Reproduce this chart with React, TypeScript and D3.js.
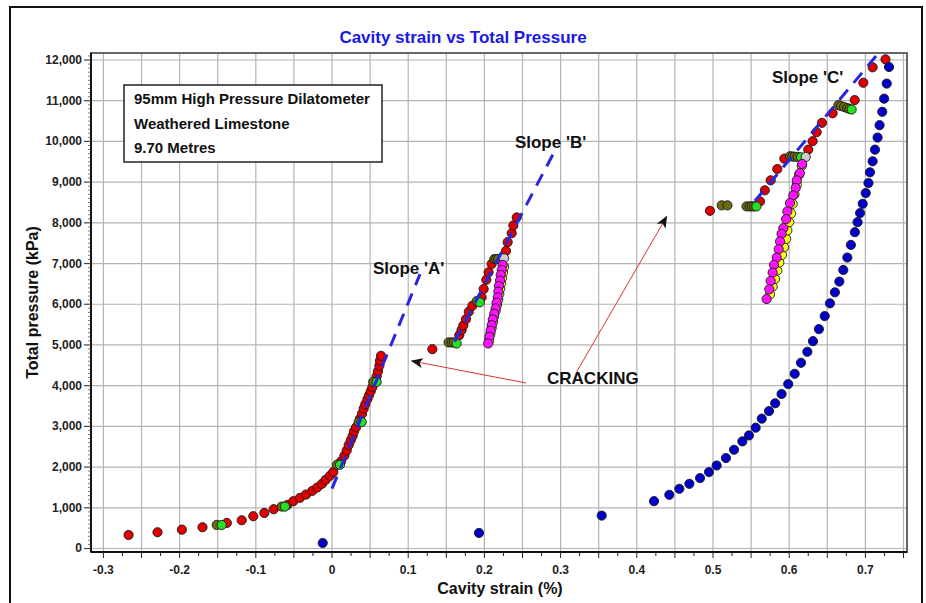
import * as d3 from 'd3';

type Pt = [number, number];

// cavity strain (%), total pressure (kPa)
const loadA: Pt[] = [
  [-0.267, 332], [-0.229, 399], [-0.197, 463], [-0.17, 522], [-0.138, 628], [-0.1185, 694],
  [-0.1033, 793], [-0.0888, 874], [-0.0765, 965], [-0.0586, 1071], [-0.0508, 1162], [-0.042, 1244],
  [-0.0341, 1325], [-0.0258, 1416], [-0.0193, 1498], [-0.0131, 1589], [-0.0083, 1687], [-0.0026, 1786],
  [0.0017, 1877], [0.0118, 2138], [0.0162, 2278], [0.0193, 2409], [0.0219, 2542], [0.0245, 2655],
  [0.0271, 2764], [0.0289, 2877], [0.0315, 2975], [0.0367, 3190], [0.0394, 3313], [0.0416, 3436],
  [0.0437, 3542], [0.0464, 3665], [0.0486, 3764], [0.0508, 3862], [0.0529, 3961], [0.0586, 4232],
  [0.0604, 4355], [0.0621, 4488], [0.063, 4611], [0.0643, 4734],
];
const loadB: Pt[] = [
  [0.1317, 4897], [0.167, 5241], [0.17, 5365], [0.1724, 5480], [0.1759, 5636], [0.1795, 5817],
  [0.1842, 5965], [0.1964, 6170], [0.199, 6374], [0.2025, 6600], [0.2055, 6786], [0.2095, 6990],
  [0.2283, 7310], [0.2305, 7525], [0.2358, 7746], [0.238, 7936], [0.2424, 8133],
];
const loadC: Pt[] = [
  [0.496, 8296], [0.5617, 8527], [0.568, 8798], [0.5757, 9044], [0.5844, 9323], [0.5936, 9577],
  [0.625, 9798], [0.6308, 10005], [0.636, 10227], [0.643, 10456], [0.657, 10690], [0.686, 11015],
  [0.6973, 11441], [0.7095, 11820], [0.7264, 12015],
];
const holdPts: Pt[] = [
  [-0.1513, 578], [-0.066, 1030], [0.0065, 2057], [0.035, 3108], [0.054, 4093],
  [0.153, 5062], [0.157, 5062], [0.16, 5062], [0.19, 6079], [0.213, 7110], [0.2155, 7110], [0.218, 7110],
  [0.5114, 8429], [0.519, 8429], [0.544, 8404], [0.548, 8404], [0.551, 8404], [0.554, 8404],
  [0.601, 9635], [0.604, 9630], [0.607, 9625], [0.611, 9620],
  [0.6645, 10890], [0.668, 10870], [0.672, 10845], [0.676, 10820], [0.679, 10800],
];
const holdEnd: Pt[] = [
  [-0.1447, 578], [-0.0617, 1030], [0.0105, 2057], [0.039, 3108], [0.0586, 4093],
  [0.1636, 5035], [0.194, 6047], [0.557, 8404], [0.6155, 9611], [0.682, 10783],
];
const turnPts: Pt[] = [[0.2257, 7130], [0.6217, 9618]];
const unload1: Pt[] = [
  [0.224, 6966], [0.2227, 6842], [0.2214, 6719], [0.2205, 6581], [0.219, 6448], [0.2183, 6310],
  [0.2175, 6170], [0.216, 6039], [0.2148, 5899], [0.213, 5768], [0.211, 5628], [0.2096, 5488],
  [0.2083, 5350], [0.2065, 5202], [0.205, 5037],
];
const reload1: Pt[] = [
  [0.2062, 5110], [0.2078, 5270], [0.2095, 5420], [0.2112, 5560], [0.2128, 5700], [0.2148, 5840],
  [0.2165, 5980], [0.2182, 6110], [0.2195, 6250], [0.2207, 6380], [0.222, 6520], [0.2232, 6650],
  [0.2245, 6790], [0.2258, 6920],
];
const unload2: Pt[] = [
  [0.617, 9446], [0.614, 9224], [0.61, 9044], [0.6085, 8855], [0.6054, 8675], [0.601, 8485],
  [0.5976, 8281], [0.596, 8091], [0.5923, 7869], [0.59, 7729], [0.588, 7542], [0.5862, 7352],
  [0.5836, 7148], [0.58, 6966], [0.5783, 6778], [0.5757, 6571], [0.5739, 6367], [0.5704, 6128],
];
const reload2: Pt[] = [
  [0.5748, 6244], [0.5783, 6433], [0.5814, 6621], [0.5844, 6828], [0.587, 7025], [0.5906, 7212],
  [0.5932, 7401], [0.596, 7606], [0.5976, 7813], [0.6, 8017], [0.6025, 8230], [0.6045, 8468],
  [0.607, 8700], [0.61, 8936], [0.6129, 9182], [0.6165, 9400],
];
const finalUnload: Pt[] = [
  [0.731, 11828], [0.728, 11420], [0.7246, 11050], [0.7221, 10727], [0.7186, 10399], [0.716, 10095],
  [0.7126, 9798], [0.7095, 9512], [0.706, 9241], [0.704, 8978], [0.7004, 8731], [0.6965, 8468],
  [0.693, 8239], [0.6897, 8017], [0.6862, 7771], [0.681, 7458], [0.6763, 7148], [0.671, 6842],
  [0.6658, 6557], [0.66, 6293], [0.6535, 6022], [0.6466, 5709], [0.639, 5389], [0.6312, 5094],
  [0.6238, 4833], [0.6155, 4562], [0.6072, 4291], [0.5987, 4040], [0.59, 3795], [0.5816, 3567],
  [0.5735, 3375], [0.564, 3190], [0.556, 2968], [0.5472, 2778], [0.5385, 2631], [0.5276, 2426],
  [0.517, 2222], [0.5048, 2039], [0.4948, 1877], [0.483, 1729], [0.469, 1589], [0.4558, 1466],
  [0.4427, 1318], [0.4226, 1163], [0.3539, 808], [0.1929, 382], [-0.0122, 135],
];

const slopeA: Pt[] = [[0, 1470], [0.1155, 6740]];
const slopeB: Pt[] = [[0.161, 5085], [0.291, 9720]];
const slopeC: Pt[] = [[0.555, 8535], [0.7165, 12155]];

const xTickLabels = ['-0.3', '-0.2', '-0.1', '0', '0.1', '0.2', '0.3', '0.4', '0.5', '0.6', '0.7'];
const yTicks = [0, 1000, 2000, 3000, 4000, 5000, 6000, 7000, 8000, 9000, 10000, 11000, 12000];
const infoLines = ['95mm High Pressure Dilatometer', 'Weathered Limestone', '9.70 Metres'];

const W = 926;
const H = 603;
const FONT = "'Liberation Sans', Arial, sans-serif";

export default function App() {
  const x = d3.scaleLinear().domain([-0.3163, 0.7546]).range([91, 907]);
  const y = d3.scaleLinear().domain([-86, 12172]).range([552, 53]);
  const line = d3.line<Pt>().x(d => x(d[0])).y(d => y(d[1]));
  const fmt = d3.format(',');

  const vGrid = d3.range(-6, 16).map(i => i * 0.05);
  const xMinor = d3.range(-12, 31).map(i => i * 0.025);
  const yMinor = d3.range(0, 122).map(i => i * 100);

  const dots = (data: Pt[], fill: string, key: string) =>
    data.map((d, i) => (
      <circle key={key + i} cx={x(d[0])} cy={y(d[1])} r={4.6} fill={fill} stroke="#1a1a1a" strokeWidth={0.9} />
    ));

  const [x0, x1] = x.range();
  const [yb, yt] = y.range();

  return (
    <svg width={W} height={H} style={{ position: 'absolute', left: 0, top: 0, background: '#fff' }} fontFamily={FONT}>
      <rect x={10} y={7} width={912} height={620} fill="#fff" stroke="#111" strokeWidth={2} />
      <text x={463} y={43} textAnchor="middle" fontSize={17} fontWeight="bold" fill="#1818e8">
        Cavity strain vs Total Pressure
      </text>

      {/* grid */}
      {vGrid.map((v, i) => (
        <line key={'vg' + i} x1={x(v)} x2={x(v)} y1={yt} y2={yb} stroke="#b4b4b4" strokeWidth={1.2} />
      ))}
      {yTicks.map(v => (
        <line key={'hg' + v} x1={x0} x2={x1} y1={y(v)} y2={y(v)} stroke="#b4b4b4" strokeWidth={1.2} />
      ))}
      <rect x={x0} y={yt} width={x1 - x0} height={yb - yt} fill="none" stroke="#666" strokeWidth={2} />
      <line x1={x0} x2={x0} y1={yt} y2={yb} stroke="#111" strokeWidth={2} />
      <line x1={x0} x2={x1} y1={yb} y2={yb} stroke="#111" strokeWidth={2} />

      {/* ticks */}
      {xMinor.map((v, i) => (
        <line key={'xm' + i} x1={x(v)} x2={x(v)} y1={yb} y2={yb + (i % 2 === 0 ? 6 : 4)} stroke="#222" strokeWidth={1} />
      ))}
      {yMinor.map(v => (
        <line key={'ym' + v} x1={x0} x2={x0 - (v % 1000 === 0 ? 7 : 3)} y1={y(v)} y2={y(v)} stroke="#444" strokeWidth={v % 1000 === 0 ? 1.2 : 0.7} />
      ))}
      {xTickLabels.map((t, i) => (
        <text key={'xl' + t} x={x(-0.3 + i * 0.1)} y={574} textAnchor="middle" fontSize={12} fontWeight="bold" fill="#222">
          {t}
        </text>
      ))}
      {yTicks.map(v => (
        <text key={'yl' + v} x={82} y={y(v) + 4} textAnchor="end" fontSize={12} fontWeight="bold" fill="#222">
          {fmt(v)}
        </text>
      ))}
      <text x={500} y={594} textAnchor="middle" fontSize={16} fontWeight="bold" fill="#111">Cavity strain (%)</text>
      <text transform={`translate(38,${(yt + yb) / 2}) rotate(-90)`} textAnchor="middle" fontSize={16} fontWeight="bold" fill="#111">
        Total pressure (kPa)
      </text>

      {/* info box */}
      <rect x={124} y={85} width={258} height={77} fill="#fff" stroke="#222" strokeWidth={1.5} />
      {infoLines.map((t, i) => (
        <text key={t} x={134} y={104 + i * 24.5} fontSize={15} fontWeight="bold" fill="#111">{t}</text>
      ))}

      {/* data */}
      {dots(loadA, '#e00000', 'ra')}
      {dots(loadB, '#e00000', 'rb')}
      {dots(loadC, '#e00000', 'rc')}
      {dots(holdPts, '#6b6b10', 'ho')}
      {dots(holdEnd, '#22e022', 'hg')}
      {dots(turnPts, '#cccccc', 'tp')}
      {dots(reload1, '#ffff10', 'y1')}
      {dots(reload2, '#ffff10', 'y2')}
      {dots(unload1, '#ff10ff', 'm1')}
      {dots(unload2, '#ff10ff', 'm2')}
      {dots(finalUnload, '#0000c8', 'bl')}

      {[slopeA, slopeB, slopeC].map((s, i) => (
        <path key={'sl' + i} d={line(s) ?? ''} fill="none" stroke="#2727dd" strokeWidth={3} strokeDasharray="13 9" />
      ))}

      {/* annotations */}
      <text x={x(0.0538)} y={y(6744)} fontSize={17} fontWeight="bold" fill="#111">Slope 'A'</text>
      <text x={x(0.24)} y={y(9840)} fontSize={17} fontWeight="bold" fill="#111">Slope 'B'</text>
      <text x={x(0.5774)} y={y(11437)} fontSize={17} fontWeight="bold" fill="#111">Slope 'C'</text>
      <text x={x(0.2822)} y={y(4042)} fontSize={17} fontWeight="bold" fill="#111">CRACKING</text>

      <defs>
        <marker id="ah" viewBox="0 0 12 10" refX="11" refY="5" markerWidth="12" markerHeight="10" markerUnits="userSpaceOnUse" orient="auto">
          <path d="M0,0 L12,5 L0,10 L3,5 Z" fill="#111" />
        </marker>
      </defs>
      <line x1={x(0.2546)} y1={y(4066)} x2={x(0.1046)} y2={y(4607)} stroke="#e03030" strokeWidth={1} markerEnd="url(#ah)" />
      <line x1={x(0.3202)} y1={y(4312)} x2={x(0.4392)} y2={y(8152)} stroke="#e03030" strokeWidth={1} markerEnd="url(#ah)" />
    </svg>
  );
}
